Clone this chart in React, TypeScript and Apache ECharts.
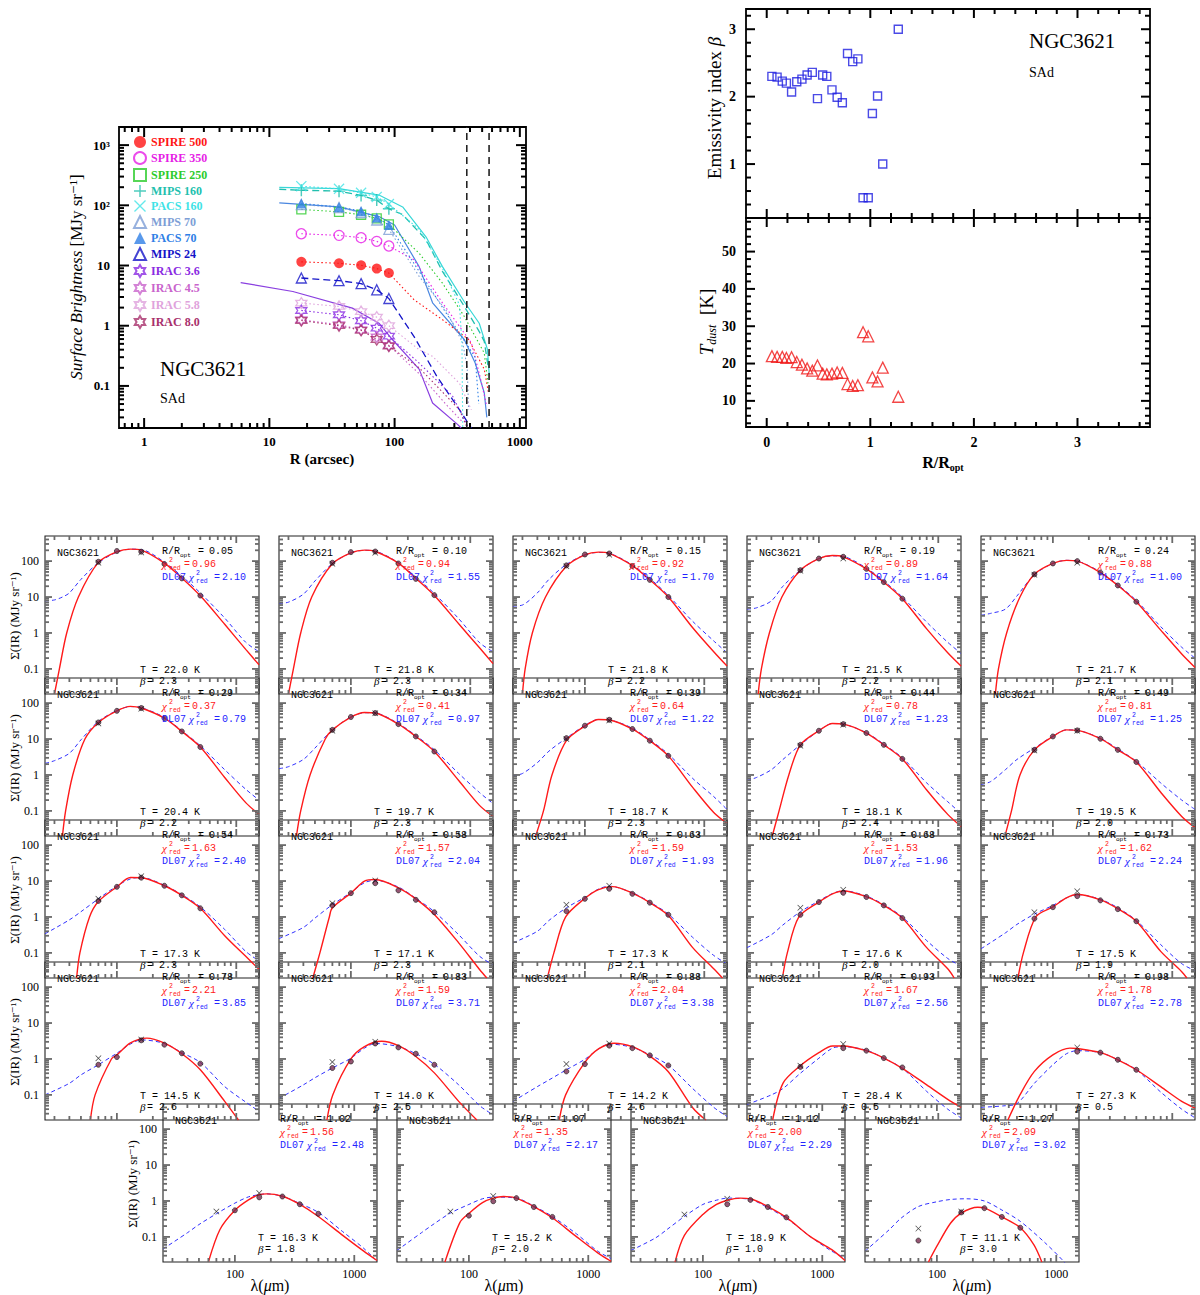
import React, { useEffect, useRef } from 'react';
import * as echarts from 'echarts';

const SERIF = "'Liberation Serif', 'DejaVu Serif', serif";
const MONO = "'Liberation Mono', 'DejaVu Sans Mono', monospace";
const RED_TXT = '#ff2020';
const BLUE_TXT = '#2323ff';

// ================= Top-left: surface brightness profiles =================
const R_PTS = [18, 36, 54, 72, 90];
const SPIRE500 = [11.5, 10.9, 10.1, 8.9, 7.5];
const SPIRE350 = [33.7, 31.7, 29, 25.2, 21.1];
const SPIRE250 = [85.5, 78, 69.7, 60.7, 48.3];
const MIPS160 = [178, 172, 146, 122, 87.5];
const PACS160 = [208, 188, 161, 138, 105];
const MIPS70 = [103, 92, 76, 57, 40];
const PACS70 = [107, 94, 80, 63, 47];
const MIPS24 = [6.2, 5.6, 5.0, 3.95, 2.83];
const IRAC36 = [1.79, 1.52, 1.21, 0.91, 0.67];
const IRAC45 = [1.26, 1.04, 0.86, 0.65, 0.47];
const IRAC58 = [2.38, 2.09, 1.72, 1.39, 1.0];
const IRAC80 = [1.22, 1.0, 0.84, 0.59, 0.46];

const EXT_SPIRE500 = [[143, 2.7], [241, 1.26], [390, 0.59], [520, 0.19], [560, 0.08]];
const EXT_SPIRE350 = [[143, 12.4], [241, 2.4], [410, 0.52], [480, 0.145], [540, 0.05]];
const EXT_SPIRE250 = [[157, 16], [241, 5.1], [360, 1.43], [520, 0.35], [560, 0.1]];
const EXT_MIPS160 = [[116, 70], [178, 27], [241, 8], [360, 2.1], [474, 0.8], [520, 0.55], [560, 0.2]];
const EXT_PACS160 = [[157, 40], [241, 9], [330, 2.2], [345, 0.5], [350, 0.02]];
const EXT_MIPS70 = [[157, 6.6], [256, 1.84], [350, 0.52], [380, 0.2], [390, 0.04]];
const EXT_PACS70 = [[157, 8], [250, 1.8], [440, 0.3], [470, 0.05]];
const EXT_MIPS24 = [[143, 0.66], [217, 0.145], [330, 0.04], [410, 0.02]];
const EXT_IRAC36 = [[157, 0.24], [290, 0.068], [390, 0.02]];
const EXT_IRAC45 = [[157, 0.16], [256, 0.05], [350, 0.025]];
const EXT_IRAC58 = [[157, 0.4], [201, 0.31], [330, 0.11], [410, 0.04]];
const EXT_IRAC80 = [[157, 0.2], [240, 0.08], [330, 0.04], [380, 0.02]];

const PROF_PACS160 = [[12, 198], [36, 190], [75, 148], [116, 94], [178, 30], [241, 9.6], [360, 2.5], [474, 1.1], [552, 0.4], [570, 0.15]];
const PROF_PACS70 = [[12, 110], [36, 94], [75, 65], [100, 47], [157, 9.6], [201, 2.4], [360, 0.59], [440, 0.24], [520, 0.077], [545, 0.03]];
const PROF_MIPS160_START = [[12, 185]];
const PROF_IRAC36 = [[5.9, 5.2], [15.4, 3.7], [46, 1.96], [75, 1.1], [96, 0.59], [157, 0.19], [201, 0.052], [318, 0.023], [340, 0.02]];
const R_LIMITS = [377, 568];

// ================= Top-right & SED parameters =================
const SED_R = [0.05, 0.10, 0.15, 0.19, 0.24, 0.29, 0.34, 0.39, 0.44, 0.49, 0.54, 0.58, 0.63, 0.68, 0.73, 0.78, 0.83, 0.88, 0.93, 0.98, 1.02, 1.07, 1.12, 1.27];
const SED_BETA = [2.30, 2.29, 2.23, 2.20, 2.07, 2.22, 2.26, 2.32, 2.36, 1.97, 2.32, 2.30, 2.10, 1.99, 1.91, 2.64, 2.52, 2.56, 0.50, 0.50, 1.75, 2.01, 1.00, 3.00];
const SED_T = [22.0, 21.8, 21.8, 21.5, 21.7, 20.4, 19.7, 18.7, 18.1, 19.5, 17.3, 17.1, 17.3, 17.6, 17.5, 14.5, 14.0, 14.2, 28.4, 27.3, 16.3, 15.2, 18.9, 11.1];
const CHI_MBB = [0.96, 0.94, 0.92, 0.89, 0.88, 0.37, 0.41, 0.64, 0.78, 0.81, 1.63, 1.57, 1.59, 1.53, 1.62, 2.21, 1.59, 2.04, 1.67, 1.78, 1.56, 1.35, 2.00, 2.09];
const CHI_DL07 = [2.10, 1.55, 1.70, 1.64, 1.00, 0.79, 0.97, 1.22, 1.23, 1.25, 2.40, 2.04, 1.93, 1.96, 2.24, 3.85, 3.71, 3.38, 2.56, 2.78, 2.48, 2.17, 2.29, 3.02];

// ================= SED panels =================
const SED_WL = [70, 100, 160, 250, 350, 500];
const MIPS_WL = [70, 160];
const SED_OBS = [
  [96, 191, 183, 83, 33, 11], [90, 178, 185, 86, 32, 11.3], [76, 153, 163, 73, 30, 10], [56, 118, 132, 61, 26, 9], [43, 86, 100, 48, 21, 7.4],
  [29, 61, 73, 38, 16.3, 6.0], [18, 41, 53, 26, 11.8, 4.5], [10.6, 23.5, 34.4, 19, 9, 3.4], [6.9, 17, 26, 14.7, 6.9, 2.8], [5.0, 11.8, 17.4, 10.2, 5.0, 2.3],
  [2.8, 6.9, 12.4, 7.4, 4.0, 1.74], [2.1, 4.6, 8.7, 5.5, 3.0, 1.35], [1.45, 3.2, 6.1, 4.4, 2.5, 1.15], [1.15, 2.6, 4.7, 3.6, 2.1, 0.93], [0.9, 1.87, 3.8, 2.9, 1.65, 0.76],
  [0.69, 1.13, 3.3, 2.5, 1.44, 0.74], [0.56, 0.85, 2.7, 2.1, 1.4, 0.69], [0.45, 0.72, 2.35, 2.0, 1.26, 0.66], [0.6, null, 2.0, 1.7, 1.06, 0.58], [null, null, 1.6, 1.5, 0.95, 0.5],
  [null, 0.55, 1.26, 1.33, 0.81, 0.44], [null, 0.39, 0.98, 1.2, 0.68, 0.36], [null, null, 0.81, 1.07, 0.68, 0.35], [0.079, null, 0.48, 0.63, 0.36, 0.18],
];
const SED_MIPS = [
  [90, 175], [85, 170], [72, 150], [54, 118], [42, 90],
  [27, 70], [17, 52], [10, 33], [6.5, 25], [4.8, 17],
  [3.2, 13.5], [2.4, 10.3], [2.2, 7.4], [1.8, 5.7], [1.35, 5.2],
  [1.05, 3.5], [0.82, 3.0], [0.72, 2.7], [0.65, 2.6], [null, 2.1],
  [0.51, 1.66], [0.51, 1.38], [0.42, 1.15], [0.17, 0.51],
];
const MBB_CURVES = [
  [[30, 0.02], [33, 0.1], [38, 1], [47.6, 10], [70, 92], [100, 182], [130, 215], [160, 203], [250, 88], [350, 34], [500, 10.8], [800, 1.74], [1200, 0.35], [1550, 0.13]],
  [[30, 0.02], [33, 0.1], [38, 1], [47, 10], [70, 84], [100, 170], [130, 202], [160, 185], [250, 88], [350, 33], [500, 11], [800, 1.8], [1200, 0.38], [1550, 0.14]],
  [[30, 0.02], [31.6, 0.1], [36.3, 1], [46.8, 10], [70, 72], [100, 150], [130, 178], [160, 165], [250, 75], [350, 30], [500, 10], [800, 1.4], [1200, 0.3], [1550, 0.12]],
  [[31, 0.02], [33, 0.1], [38.5, 1], [49, 10], [70, 56], [100, 118], [130, 143], [160, 132], [250, 61], [350, 26], [500, 9], [800, 1.3], [1200, 0.28], [1550, 0.12]],
  [[33, 0.02], [35, 0.1], [41, 1], [53, 10], [70, 43], [100, 86], [130, 105], [160, 100], [250, 48], [350, 21], [500, 7.4], [800, 1.2], [1200, 0.26], [1550, 0.11]],
  [[35, 0.02], [37.2, 0.1], [42.7, 1], [54, 10], [70, 29], [100, 61], [130, 81], [160, 73], [250, 38], [350, 16.3], [500, 6.0], [800, 0.85], [1200, 0.17], [1550, 0.08]],
  [[35, 0.02], [38, 0.1], [45.5, 1], [61, 10], [70, 18], [100, 41], [130, 55], [160, 53], [250, 26], [350, 11.8], [500, 4.5], [800, 0.7], [1200, 0.14], [1550, 0.07]],
  [[38.7, 0.02], [45, 0.1], [53, 1], [70, 9], [100, 23], [130, 35], [160, 34], [250, 19], [350, 9], [500, 3.4], [800, 0.45], [1200, 0.09], [1550, 0.045]],
  [[40.7, 0.02], [46.4, 0.1], [56, 1], [70, 6.9], [100, 17], [130, 27], [160, 26], [250, 14.7], [350, 6.9], [500, 2.8], [800, 0.38], [1200, 0.08], [1550, 0.037]],
  [[39.7, 0.02], [45, 0.1], [53, 1], [70, 5], [100, 11.8], [130, 18], [160, 17.4], [250, 10.2], [350, 5.0], [500, 2.3], [800, 0.33], [1200, 0.07], [1550, 0.034]],
  [[46, 0.02], [49, 0.1], [59, 1], [70, 2.7], [100, 6.9], [130, 12.5], [160, 12.4], [250, 7.4], [350, 4.0], [500, 1.74], [800, 0.3], [1200, 0.08], [1550, 0.035]],
  [[48, 0.02], [55, 0.1], [66, 1], [70, 1.8], [100, 4.6], [130, 10], [160, 11], [250, 6.5], [350, 3.2], [500, 1.17], [800, 0.19], [1200, 0.034], [1377, 0.02]],
  [[48.5, 0.02], [55, 0.1], [69, 1], [100, 3.3], [130, 5.8], [170, 7], [250, 4.6], [350, 2.5], [500, 1.1], [800, 0.14], [1200, 0.036], [1419, 0.02]],
  [[49.5, 0.02], [54.4, 0.1], [68, 1], [100, 2.6], [130, 4.4], [160, 5.3], [250, 3.7], [350, 2.1], [500, 0.93], [800, 0.14], [1200, 0.036], [1360, 0.02]],
  [[51, 0.02], [56.6, 0.1], [72, 1], [100, 1.9], [130, 3.4], [160, 4.2], [250, 3.0], [350, 1.7], [500, 0.76], [800, 0.11], [1200, 0.03], [1325, 0.02]],
  [[60, 0.02], [65.7, 0.1], [90, 1], [100, 1.3], [130, 2.8], [178, 3.8], [250, 2.75], [350, 1.4], [500, 0.5], [800, 0.066], [1043, 0.02]],
  [[63, 0.02], [70.5, 0.1], [100, 1], [130, 2.2], [181, 3.1], [250, 2.35], [350, 1.17], [500, 0.41], [800, 0.066], [1135, 0.02]],
  [[61, 0.02], [69, 0.1], [100, 0.8], [130, 1.9], [176, 2.75], [250, 2.2], [350, 1.2], [500, 0.44], [800, 0.044], [1030, 0.02]],
  [[41, 0.02], [50, 0.21], [70, 0.65], [100, 1.5], [130, 2.3], [160, 2.3], [250, 1.7], [350, 1.06], [500, 0.55], [800, 0.19], [1200, 0.075], [1550, 0.045]],
  [[42, 0.02], [53, 0.1], [70, 0.45], [100, 1.3], [139, 2.0], [160, 1.95], [250, 1.5], [350, 0.95], [500, 0.5], [800, 0.17], [1200, 0.066], [1550, 0.043]],
  [[60, 0.02], [75, 0.16], [100, 0.55], [130, 1.07], [160, 1.5], [185, 1.58], [250, 1.35], [350, 0.8], [500, 0.37], [800, 0.11], [1200, 0.04], [1550, 0.022]],
  [[63, 0.02], [84, 0.25], [100, 0.45], [130, 0.9], [160, 1.2], [195, 1.33], [250, 1.2], [350, 0.7], [500, 0.34], [800, 0.1], [1200, 0.036], [1550, 0.021]],
  [[58.5, 0.02], [70, 0.11], [100, 0.42], [130, 0.8], [160, 1.05], [205, 1.2], [250, 1.15], [350, 0.7], [500, 0.35], [800, 0.1], [1200, 0.044], [1550, 0.022]],
  [[85, 0.02], [100, 0.055], [130, 0.24], [160, 0.46], [220, 0.67], [250, 0.64], [350, 0.36], [500, 0.18], [650, 0.06], [757, 0.02]],
];
const DL07_CURVES = [
  [[25, 7.8], [30, 8.3], [35, 10], [40, 13], [50, 31], [70, 90], [100, 178], [130, 215], [160, 210], [250, 94], [350, 38], [500, 13], [800, 2.6], [1200, 0.55], [1550, 0.3]],
  [[25, 6.6], [30, 7.2], [40, 12], [50, 28], [70, 85], [100, 170], [130, 200], [160, 190], [250, 90], [350, 36], [500, 12.5], [800, 2.5], [1200, 0.53], [1550, 0.3]],
  [[25, 5.6], [30, 6], [40, 13], [50, 31], [70, 81], [100, 150], [130, 175], [160, 165], [250, 78], [350, 33], [500, 11], [800, 2.1], [1200, 0.6], [1550, 0.28]],
  [[25, 4.6], [30, 5], [40, 7.8], [50, 20], [70, 56], [100, 118], [130, 140], [160, 135], [250, 64], [350, 28], [500, 10], [800, 2], [1200, 0.55], [1550, 0.27]],
  [[25, 3.1], [30, 3.5], [40, 4.6], [50, 10.7], [70, 42], [100, 86], [130, 105], [160, 100], [250, 50], [350, 22], [500, 8], [800, 1.5], [1200, 0.4], [1550, 0.2]],
  [[25, 2.1], [30, 2.5], [40, 4], [50, 9.5], [70, 31], [100, 62], [130, 80], [160, 75], [250, 40], [350, 17], [500, 6.5], [800, 1.4], [1200, 0.4], [1550, 0.2]],
  [[25, 1.5], [30, 1.7], [40, 2.7], [50, 5.6], [70, 18], [100, 41], [130, 54], [160, 53], [250, 27], [350, 12.5], [500, 5], [800, 1.1], [1200, 0.32], [1550, 0.16]],
  [[25, 0.95], [30, 1.1], [40, 2.2], [50, 4.6], [70, 10.6], [100, 24], [130, 35], [160, 34], [250, 20], [350, 9.5], [500, 3.8], [800, 0.8], [1200, 0.25], [1550, 0.11]],
  [[25, 0.71], [30, 0.85], [40, 1.4], [50, 2.7], [70, 6.9], [100, 17], [130, 27], [160, 26], [250, 15], [350, 7.2], [500, 3.0], [800, 0.6], [1200, 0.18], [1550, 0.085]],
  [[25, 0.54], [30, 0.65], [40, 1.4], [50, 2.7], [70, 5.6], [100, 12], [130, 18], [160, 17.5], [250, 10.5], [350, 5.3], [500, 2.4], [800, 0.6], [1200, 0.2], [1550, 0.11]],
  [[25, 0.34], [40, 0.83], [50, 1.4], [70, 3.2], [100, 7.3], [130, 11.5], [160, 12.6], [250, 7.6], [350, 4.2], [500, 1.9], [800, 0.45], [1200, 0.11], [1550, 0.06]],
  [[25, 0.25], [40, 0.51], [50, 0.93], [70, 2.2], [100, 4.8], [130, 9], [160, 10.5], [250, 6.8], [350, 3.3], [500, 1.4], [800, 0.32], [1200, 0.08], [1550, 0.047]],
  [[25, 0.19], [40, 0.4], [50, 0.8], [70, 1.8], [100, 3.5], [130, 6], [160, 7.2], [250, 4.7], [350, 2.6], [500, 1.2], [800, 0.27], [1200, 0.085], [1550, 0.049]],
  [[25, 0.14], [40, 0.32], [50, 0.6], [70, 1.4], [100, 2.8], [130, 4.5], [160, 5.4], [250, 3.8], [350, 2.2], [500, 1.0], [800, 0.22], [1200, 0.07], [1550, 0.043]],
  [[25, 0.13], [40, 0.36], [50, 0.62], [70, 1.2], [100, 2.1], [130, 3.4], [160, 4.2], [250, 3.1], [350, 1.8], [500, 0.8], [800, 0.17], [1200, 0.05], [1550, 0.032]],
  [[25, 0.1], [40, 0.21], [50, 0.36], [70, 0.69], [100, 1.45], [130, 2.6], [160, 3.4], [250, 2.7], [350, 1.5], [500, 0.8], [800, 0.17], [1200, 0.063], [1550, 0.035]],
  [[25, 0.08], [40, 0.19], [50, 0.3], [70, 0.56], [100, 1.05], [130, 2], [160, 2.7], [250, 2.2], [350, 1.4], [500, 0.71], [800, 0.19], [1200, 0.05], [1550, 0.028]],
  [[25, 0.066], [40, 0.17], [50, 0.26], [70, 0.5], [100, 0.98], [130, 1.9], [160, 2.6], [250, 2.1], [350, 1.3], [500, 0.67], [800, 0.15], [1200, 0.045], [1550, 0.025]],
  [[25, 0.054], [40, 0.1], [50, 0.15], [70, 0.4], [100, 1.05], [130, 2], [160, 2.2], [250, 1.75], [350, 1.05], [500, 0.55], [800, 0.125], [1200, 0.04], [1550, 0.023]],
  [[25, 0.045], [40, 0.05], [50, 0.057], [70, 0.21], [100, 0.69], [130, 1.4], [160, 1.7], [250, 1.5], [350, 0.95], [500, 0.5], [800, 0.12], [1200, 0.04], [1550, 0.023]],
  [[25, 0.046], [40, 0.13], [50, 0.22], [70, 0.44], [100, 0.87], [130, 1.3], [160, 1.5], [185, 1.58], [250, 1.35], [350, 0.85], [500, 0.48], [800, 0.14], [1200, 0.048], [1550, 0.021]],
  [[25, 0.042], [40, 0.13], [50, 0.22], [70, 0.46], [100, 0.8], [130, 1.15], [160, 1.28], [250, 1.2], [350, 0.72], [500, 0.37], [800, 0.12], [1200, 0.04], [1550, 0.025]],
  [[25, 0.042], [40, 0.093], [50, 0.16], [70, 0.37], [100, 0.8], [130, 1.05], [160, 1.2], [250, 1.1], [350, 0.65], [500, 0.33], [800, 0.1], [1200, 0.04], [1550, 0.026]],
  [[25, 0.04], [40, 0.16], [50, 0.33], [70, 0.7], [100, 0.95], [130, 1.1], [175, 1.15], [250, 1.0], [350, 0.56], [500, 0.27], [800, 0.07], [1150, 0.021], [1300, 0.012]],
];

// ================= styling helpers =================
const PLUS = 'path://M4.4,0 L5.6,0 L5.6,4.4 L10,4.4 L10,5.6 L5.6,5.6 L5.6,10 L4.4,10 L4.4,5.6 L0,5.6 L0,4.4 L4.4,4.4 Z';
const CROSS = 'path://M0.8,0 L5,4.2 L9.2,0 L10,0.8 L5.8,5 L10,9.2 L9.2,10 L5,5.8 L0.8,10 L0,9.2 L4.2,5 L0,0.8 Z';
const STAR = 'path://M5,0 L6.443,2.5 L9.33,2.5 L7.887,5 L9.33,7.5 L6.443,7.5 L5,10 L3.557,7.5 L0.67,7.5 L2.113,5 L0.67,2.5 L3.557,2.5 Z';
const CLEAR = 'rgba(255,255,255,0)';

const BANDS = [
  { name: 'SPIRE 500', color: '#ff1414', symbol: 'circle', size: 10, hollow: false, vals: SPIRE500, ext: EXT_SPIRE500, line: 'dotted' },
  { name: 'SPIRE 350', color: '#e61ee6', symbol: 'circle', size: 10, hollow: true, vals: SPIRE350, ext: EXT_SPIRE350, line: 'dotted' },
  { name: 'SPIRE 250', color: '#2ccc2c', symbol: 'rect', size: 9, hollow: true, vals: SPIRE250, ext: EXT_SPIRE250, line: 'dotted' },
  { name: 'MIPS 160', color: '#22bfae', symbol: PLUS, size: 12, hollow: false, vals: MIPS160, ext: EXT_MIPS160, line: 'dashed' },
  { name: 'PACS 160', color: '#3fe3e6', symbol: CROSS, size: 11, hollow: false, vals: PACS160, ext: EXT_PACS160, line: 'dotted' },
  { name: 'MIPS 70', color: '#7d9ed6', symbol: 'triangle', size: 10, hollow: true, vals: MIPS70, ext: EXT_MIPS70, line: 'dotted' },
  { name: 'PACS 70', color: '#2f80e6', symbol: 'triangle', size: 10, hollow: false, vals: PACS70, ext: EXT_PACS70, line: 'dotted' },
  { name: 'MIPS 24', color: '#1414c8', symbol: 'triangle', size: 10, hollow: true, vals: MIPS24, ext: EXT_MIPS24, line: 'dashed' },
  { name: 'IRAC 3.6', color: '#8a2be2', symbol: STAR, size: 11, hollow: true, vals: IRAC36, ext: EXT_IRAC36, line: 'dotted' },
  { name: 'IRAC 4.5', color: '#c964cc', symbol: STAR, size: 11, hollow: true, vals: IRAC45, ext: EXT_IRAC45, line: 'dotted' },
  { name: 'IRAC 5.8', color: '#dfa3dc', symbol: STAR, size: 11, hollow: true, vals: IRAC58, ext: EXT_IRAC58, line: 'dotted' },
  { name: 'IRAC 8.0', color: '#a8306c', symbol: STAR, size: 11, hollow: true, vals: IRAC80, ext: EXT_IRAC80, line: 'dotted' },
];

const TL_X = [0.63, 1120];
const TL_Y = [0.02, 2000];
const TR_X = [-0.2, 3.7];
const TR_B = [0.2, 3.3];
const TR_T = [3, 59];
const SED_X = [25, 1550];
const SED_Y = [0.02, 500];
const PW = 214;
const PH = 158;

const GRID_TL = { left: 119, top: 127, width: 407, height: 301 };
const GRID_B = { left: 746, top: 9, width: 404, height: 209 };
const GRID_T = { left: 746, top: 218, width: 404, height: 209 };

function panelBox(i: number) {
  const r = Math.floor(i / 5), c = i % 5;
  return r < 4 ? { left: 45 + 234 * c, top: 536 + 142 * r, r, c } : { left: 163 + 234 * c, top: 1104, r, c };
}

function isPow10(v: number) {
  const l = Math.log10(v);
  return Math.abs(l - Math.round(l)) < 1e-6;
}
function logLabel(v: number) {
  if (!isPow10(v)) return '';
  const l = Math.round(Math.log10(v));
  return l >= 0 ? String(Math.pow(10, l)) : Math.pow(10, l).toFixed(-l);
}

function logTicks(min: number, max: number) {
  const major: number[] = [], minor: number[] = [];
  for (let e = Math.floor(Math.log10(min)); e <= Math.floor(Math.log10(max)); e++) {
    for (let m = 1; m <= 9; m++) {
      const v = +(m * Math.pow(10, e)).toPrecision(6);
      if (v <= min * 1.0001 || v >= max * 0.9999) continue;
      (m === 1 ? major : minor).push(v);
    }
  }
  return { major, minor };
}
function linTicks(min: number, max: number, majorStep: number, minorStep: number) {
  const major: number[] = [], minor: number[] = [];
  const n0 = Math.ceil(min / minorStep - 1e-9), n1 = Math.floor(max / minorStep + 1e-9);
  for (let n = n0; n <= n1; n++) {
    const v = +(n * minorStep).toFixed(6);
    if (v <= min + 1e-9 || v >= max - 1e-9) continue;
    const q = v / majorStep;
    (Math.abs(q - Math.round(q)) < 1e-6 ? major : minor).push(v);
  }
  return { major, minor };
}

// Same mapping as the axis (linear or log10): value -> 0..1 fraction of the grid.
function frac(v: number, r: number[], log: boolean) {
  return log ? (Math.log10(v) - Math.log10(r[0])) / (Math.log10(r[1]) - Math.log10(r[0])) : (v - r[0]) / (r[1] - r[0]);
}

// Inward tick marks on all four sides of a grid, as filled rects.
function tickElements(box: any, xr: number[], yr: number[], xLog: boolean, yLog: boolean, xt: any, yt: any, maj: number, min: number, color: string, w: number) {
  const els: any[] = [];
  const L = box.left, T = box.top, R = box.left + box.width, B = box.top + box.height;
  const rect = (x: number, y: number, width: number, height: number) =>
    els.push({ type: 'rect', silent: true, z: 60, shape: { x, y, width, height }, style: { fill: color, stroke: null, lineWidth: 0 } });
  const xTick = (v: number, len: number) => {
    const x = L + frac(v, xr, xLog) * box.width;
    rect(x - w / 2, B - len, w, len);
    rect(x - w / 2, T, w, len);
  };
  const yTick = (v: number, len: number) => {
    const y = B - frac(v, yr, yLog) * box.height;
    rect(L, y - w / 2, len, w);
    rect(R - len, y - w / 2, len, w);
  };
  xt.major.forEach((v: number) => xTick(v, maj));
  xt.minor.forEach((v: number) => xTick(v, min));
  yt.major.forEach((v: number) => yTick(v, maj));
  yt.minor.forEach((v: number) => yTick(v, min));
  return els;
}

function txt(x: number, y: number, text: string, size: number, fill = '#000', o: any = {}) {
  const style: any = {
    text, fill, fontSize: size, fontFamily: o.font || MONO,
    fontStyle: o.italic ? 'italic' : 'normal', fontWeight: o.bold ? 'bold' : 'normal',
    textAlign: o.align || 'left', textVerticalAlign: 'middle',
  };
  if (o.rich) style.rich = o.rich;
  return { type: 'text', x, y, rotation: o.rot || 0, z: 100, silent: true, style };
}
function rich(size: number, fill: string, font: string, bold = false) {
  const w = bold ? 'bold' : 'normal';
  const ss = Math.round(size * 0.64);
  return {
    n: { fontSize: size, fill, fontFamily: font, fontWeight: w, lineHeight: size + 4 },
    i: { fontSize: size, fill, fontFamily: font, fontStyle: 'italic', fontWeight: w, lineHeight: size + 4 },
    s: { fontSize: ss, fill, fontFamily: font, fontWeight: w, verticalAlign: 'bottom', lineHeight: ss },
    si: { fontSize: ss, fill, fontFamily: font, fontStyle: 'italic', fontWeight: w, verticalAlign: 'bottom', lineHeight: ss },
  };
}

const noTick = { axisLine: { show: false }, axisTick: { show: false }, splitLine: { show: false }, minorTick: { show: false }, minorSplitLine: { show: false } };

function buildOption() {
  const grid: any[] = [], xAxis: any[] = [], yAxis: any[] = [], series: any[] = [], elements: any[] = [];
  const bigLabel = { fontSize: 13, fontWeight: 'bold', fontFamily: SERIF, color: '#000' };

  // ---------- grid 0: surface brightness ----------
  grid.push({ ...GRID_TL, show: true, borderColor: '#000', borderWidth: 1.8, backgroundColor: CLEAR, outerBoundsMode: 'none' });
  xAxis.push({ ...noTick, type: 'log', logBase: 10, gridIndex: 0, min: TL_X[0], max: TL_X[1], axisLabel: { ...bigLabel, margin: 7, formatter: logLabel } });
  yAxis.push({
    ...noTick, type: 'log', logBase: 10, gridIndex: 0, min: TL_Y[0], max: TL_Y[1],
    axisLabel: { ...bigLabel, margin: 9, formatter: (v: number) => { const s = logLabel(v); return s === '1000' ? '10³' : s === '100' ? '10²' : s; } },
  });

  // ---------- grid 1 & 2: beta and T ----------
  grid.push({ ...GRID_B, show: true, borderColor: '#000', borderWidth: 1.8, backgroundColor: CLEAR, outerBoundsMode: 'none' });
  grid.push({ ...GRID_T, show: true, borderColor: '#000', borderWidth: 1.8, backgroundColor: CLEAR, outerBoundsMode: 'none' });
  xAxis.push({ ...noTick, type: 'value', gridIndex: 1, min: TR_X[0], max: TR_X[1], axisLabel: { show: false } });
  yAxis.push({ ...noTick, type: 'value', gridIndex: 1, min: TR_B[0], max: TR_B[1], axisLabel: { ...bigLabel, fontSize: 14, margin: 10, formatter: (v: number) => (Number.isInteger(v) ? String(v) : '') } });
  xAxis.push({ ...noTick, type: 'value', gridIndex: 2, min: TR_X[0], max: TR_X[1], axisLabel: { ...bigLabel, fontSize: 14, margin: 8, formatter: (v: number) => (Number.isInteger(v) ? String(v) : '') } });
  yAxis.push({ ...noTick, type: 'value', gridIndex: 2, min: TR_T[0], max: TR_T[1], axisLabel: { ...bigLabel, fontSize: 14, margin: 10, formatter: (v: number) => (v % 10 === 0 ? String(v) : '') } });

  // ---------- SED grids ----------
  for (let i = 0; i < 24; i++) {
    const b = panelBox(i);
    const gi = 3 + i;
    grid.push({ left: b.left, top: b.top, width: PW, height: PH, show: true, borderColor: '#222', borderWidth: 1.1, backgroundColor: CLEAR, outerBoundsMode: 'none' });
    xAxis.push({ ...noTick, type: 'log', logBase: 10, gridIndex: gi, min: SED_X[0], max: SED_X[1], axisLabel: { show: b.r === 4, fontSize: 12, fontFamily: SERIF, color: '#000', margin: 6, formatter: logLabel } });
    yAxis.push({ ...noTick, type: 'log', logBase: 10, gridIndex: gi, min: SED_Y[0], max: SED_Y[1], axisLabel: { show: (b.c === 0), fontSize: 12, fontFamily: SERIF, color: '#000', margin: 6, formatter: logLabel } });
  }

  // ---------- series: top-left ----------
  const lineSer = (data: number[][], color: string, type: any, width = 1, z = 3) => ({
    type: 'line', xAxisIndex: 0, yAxisIndex: 0, data, symbol: 'none', showSymbol: false, silent: true, z,
    lineStyle: { color, width, type }, animation: false,
  });
  series.push(lineSer(PROF_PACS160, '#37d7d7', 'solid', 1.2));
  series.push(lineSer(PROF_PACS70, '#4a87e0', 'solid', 1.2));
  series.push(lineSer(PROF_IRAC36, '#8a3fe0', 'solid', 1.2));
  BANDS.forEach((bd) => {
    const pts = R_PTS.map((r, k) => [r, bd.vals[k]]);
    let data = pts.concat(bd.ext);
    if (bd.name === 'MIPS 160') data = PROF_MIPS160_START.concat(data);
    const type = bd.line === 'dashed' ? [7, 4] : [1.5, 2.5];
    series.push(lineSer(data, bd.color, type, bd.line === 'dashed' ? 1.3 : 1.1));
  });
  R_LIMITS.forEach((r) => series.push(lineSer([[r, TL_Y[0]], [r, TL_Y[1]]], '#222', [7, 5], 1.6, 4)));
  BANDS.forEach((bd) => {
    series.push({
      type: 'scatter', name: bd.name, xAxisIndex: 0, yAxisIndex: 0,
      data: R_PTS.map((r, k) => [r, bd.vals[k]]),
      symbol: bd.symbol, symbolSize: bd.size, z: 6, animation: false,
      itemStyle: bd.hollow ? { color: CLEAR, borderColor: bd.color, borderWidth: 1.3 } : { color: bd.color, borderWidth: 0 },
    });
  });

  // ---------- series: top-right ----------
  series.push({
    type: 'scatter', xAxisIndex: 1, yAxisIndex: 1, data: SED_R.map((r, k) => [r, SED_BETA[k]]),
    symbol: 'rect', symbolSize: 8, itemStyle: { color: CLEAR, borderColor: '#1d1de0', borderWidth: 1.4 }, z: 6, animation: false,
  });
  series.push({
    type: 'scatter', xAxisIndex: 2, yAxisIndex: 2, data: SED_R.map((r, k) => [r, SED_T[k]]),
    symbol: 'triangle', symbolSize: 11, itemStyle: { color: CLEAR, borderColor: '#f01818', borderWidth: 1.3 }, z: 6, animation: false,
  });

  // ---------- series: SED panels ----------
  for (let i = 0; i < 24; i++) {
    const gi = 3 + i;
    series.push({
      type: 'line', xAxisIndex: gi, yAxisIndex: gi, data: DL07_CURVES[i], smooth: 0.3, symbol: 'none', showSymbol: false,
      lineStyle: { color: '#3030ff', width: 1, type: [4, 3] }, z: 3, silent: true, animation: false,
    });
    series.push({
      type: 'line', xAxisIndex: gi, yAxisIndex: gi, data: MBB_CURVES[i], smooth: 0.3, symbol: 'none', showSymbol: false,
      lineStyle: { color: '#ff1a1a', width: 1.4 }, z: 4, silent: true, animation: false,
    });
    series.push({
      type: 'scatter', xAxisIndex: gi, yAxisIndex: gi,
      data: SED_WL.map((w, k) => [w, SED_OBS[i][k]]).filter((p) => p[1] != null),
      symbol: 'circle', symbolSize: 5, z: 6, animation: false,
      itemStyle: { color: '#7a2c50', borderColor: '#1a1a1a', borderWidth: 0.8 },
    });
    series.push({
      type: 'scatter', xAxisIndex: gi, yAxisIndex: gi,
      data: MIPS_WL.map((w, k) => [w, SED_MIPS[i][k]]).filter((p) => p[1] != null),
      symbol: CROSS, symbolSize: 6, z: 7, animation: false, itemStyle: { color: '#111' },
    });
  }

  // ---------- tick marks (all four sides, majors and minors) ----------
  elements.push(...tickElements(GRID_TL, TL_X, TL_Y, true, true, logTicks(TL_X[0], TL_X[1]), logTicks(TL_Y[0], TL_Y[1]), 10, 5, '#000', 2));
  const trx = linTicks(TR_X[0], TR_X[1], 1, 0.2);
  elements.push(...tickElements(GRID_B, TR_X, TR_B, false, false, trx, linTicks(TR_B[0], TR_B[1], 1, 0.2), 9, 5, '#000', 2));
  elements.push(...tickElements(GRID_T, TR_X, TR_T, false, false, trx, linTicks(TR_T[0], TR_T[1], 10, 2), 9, 5, '#000', 2));
  const sx = logTicks(SED_X[0], SED_X[1]);
  const sy = logTicks(SED_Y[0], SED_Y[1]);
  for (let i = 0; i < 24; i++) {
    const b = panelBox(i);
    elements.push(...tickElements({ left: b.left, top: b.top, width: PW, height: PH }, SED_X, SED_Y, true, true, sx, sy, 7, 4, '#6a6a6a', 1.8));
  }

  // ---------- texts: top-left ----------
  elements.push(txt(160, 369, 'NGC3621', 21, '#000', { font: SERIF }));
  elements.push(txt(160, 398, 'SAd', 14, '#000', { font: SERIF }));
  elements.push(txt(322, 459, 'R (arcsec)', 15, '#000', { font: SERIF, bold: true, align: 'center' }));
  elements.push(txt(76, 277, '{i|Surface Brightness} {n|[MJy sr⁻¹]}', 17, '#000', { font: SERIF, align: 'center', rot: Math.PI / 2, rich: rich(17, '#000', SERIF, false) }));
  // ---------- texts: top-right ----------
  elements.push(txt(1029, 41, 'NGC3621', 21, '#000', { font: SERIF }));
  elements.push(txt(1029, 72, 'SAd', 14, '#000', { font: SERIF }));
  elements.push(txt(714, 108, '{n|Emissivity index }{i|β}', 19, '#000', { font: SERIF, align: 'center', rot: Math.PI / 2, rich: rich(19, '#000', SERIF, false) }));
  elements.push(txt(706, 322, '{i|T}{si|dust}{n|  [K]}', 19, '#000', { font: SERIF, align: 'center', rot: Math.PI / 2, rich: rich(19, '#000', SERIF, false) }));
  elements.push(txt(943, 462, '{n|R/R}{s|opt}', 16, '#000', { font: SERIF, align: 'center', rich: rich(16, '#000', SERIF, true) }));

  // ---------- texts: SED panels ----------
  for (let r = 0; r < 4; r++) {
    elements.push(txt(14, 536 + 142 * r + 80, 'Σ(IR) (MJy sr⁻¹)', 13, '#000', { font: SERIF, align: 'center', rot: Math.PI / 2 }));
  }
  elements.push(txt(132, 1104 + 80, 'Σ(IR) (MJy sr⁻¹)', 13, '#000', { font: SERIF, align: 'center', rot: Math.PI / 2 }));
  const F = 10;
  for (let i = 0; i < 24; i++) {
    const { left: L, top: T, r } = panelBox(i);
    elements.push(txt(L + 12, T + 17, 'NGC3621', F));
    elements.push(txt(L + 117, T + 15, '{n|R/R}{s|opt}', F, '#000', { rich: rich(F, '#000', MONO) }));
    elements.push(txt(L + 153, T + 15, '=', F));
    elements.push(txt(L + 164, T + 15, SED_R[i].toFixed(2), F));
    elements.push(txt(L + 117, T + 28, 'χ', 11, RED_TXT, { font: SERIF, italic: true }));
    elements.push(txt(L + 124, T + 24, '2', 6.5, RED_TXT));
    elements.push(txt(L + 124, T + 32, 'red', 6.5, RED_TXT));
    elements.push(txt(L + 139, T + 28, '=', F, RED_TXT));
    elements.push(txt(L + 147, T + 28, CHI_MBB[i].toFixed(2), F, RED_TXT));
    elements.push(txt(L + 117, T + 41, 'DL07', F, BLUE_TXT));
    elements.push(txt(L + 144, T + 41, 'χ', 11, BLUE_TXT, { font: SERIF, italic: true }));
    elements.push(txt(L + 151, T + 37, '2', 6.5, BLUE_TXT));
    elements.push(txt(L + 151, T + 45, 'red', 6.5, BLUE_TXT));
    elements.push(txt(L + 169, T + 41, '=', F, BLUE_TXT));
    elements.push(txt(L + 177, T + 41, CHI_DL07[i].toFixed(2), F, BLUE_TXT));
    elements.push(txt(L + 95, T + 134, 'T = ' + SED_T[i].toFixed(1) + ' K', F));
    elements.push(txt(L + 95, T + 145, 'β', 11, '#000', { font: SERIF, italic: true }));
    elements.push(txt(L + 102, T + 145, '= ' + SED_BETA[i].toFixed(1), F));
    if (r === 4) {
      elements.push(txt(L + 107, 1285, '{n|λ(}{i|μ}{n|m)}', 16, '#000', { font: SERIF, align: 'center', rich: rich(16, '#000', SERIF) }));
    }
  }

  return {
    animation: false,
    backgroundColor: '#ffffff',
    grid, xAxis, yAxis, series,
    legend: {
      left: 133, top: 136, orient: 'vertical', itemWidth: 12, itemHeight: 12, itemGap: 3, padding: 0,
      selectedMode: false,
      data: BANDS.map((bd) => ({ name: bd.name, textStyle: { color: bd.color } })),
      textStyle: { fontFamily: SERIF, fontSize: 12, fontWeight: 'bold' },
    },
    graphic: { elements },
  };
}

export default function App() {
  const ref = useRef<HTMLDivElement>(null);
  useEffect(() => {
    if (!ref.current) return;
    const chart = echarts.init(ref.current, null, { renderer: 'svg' });
    chart.setOption(buildOption() as any);
    return () => chart.dispose();
  }, []);
  return <div ref={ref} style={{ position: 'absolute', left: 0, top: 0, width: 1200, height: 1295, background: '#fff' }} />;
}
